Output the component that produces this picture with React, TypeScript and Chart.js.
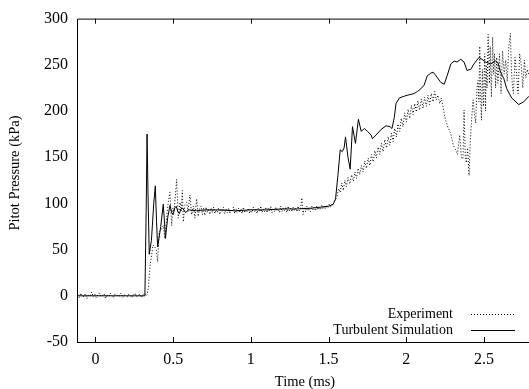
import React, { useEffect, useRef } from "react";
import { Chart, registerables } from "chart.js";

Chart.register(...registerables);

const xTicks = [0, 0.5, 1, 1.5, 2, 2.5];
const yTicks = [-50, 0, 50, 100, 150, 200, 250, 300];
const legendLabels = ["Experiment", "Turbulent Simulation"];
const xTitle = "Time (ms)";
const yTitle = "Pitot Pressure (kPa)";

// Experiment: [time (ms), pressure (kPa)]
const expBaseline: [number, number][] = [
  [-0.115, 1], [-0.105, -2], [-0.095, 3], [-0.085, 0], [-0.075, -1], [-0.065, 2], [-0.055, -3], [-0.045, 1],
  [-0.035, 0], [-0.025, 4], [-0.015, -1], [-0.005, 2], [0.005, -2], [0.015, 1], [0.025, 3], [0.035, -1],
  [0.045, 0], [0.055, 2], [0.065, -3], [0.075, 1], [0.085, -1], [0.095, 3], [0.105, 0], [0.115, -2],
  [0.125, 2], [0.135, 1], [0.145, -1], [0.155, 0], [0.165, 3], [0.175, -2], [0.185, 1], [0.195, 0],
  [0.205, -1], [0.215, 2], [0.225, 0], [0.235, -2], [0.245, 1], [0.255, 3], [0.265, -1], [0.275, 0],
  [0.285, 2], [0.295, -2], [0.305, 1], [0.315, 3], [0.325, 0], [0.333, 1],
];
const expOnset: [number, number][] = [
  [0.34, 9], [0.352, 34], [0.362, 45], [0.37, 55], [0.39, 51], [0.4, 37], [0.41, 69], [0.425, 72],
  [0.436, 76], [0.447, 62], [0.458, 85], [0.468, 101], [0.479, 112], [0.49, 76], [0.498, 95], [0.505, 91],
  [0.514, 108], [0.522, 126], [0.533, 84], [0.544, 101], [0.552, 92], [0.559, 114], [0.565, 80], [0.575, 98],
  [0.587, 101], [0.595, 91], [0.608, 109], [0.619, 88], [0.63, 97], [0.64, 84], [0.651, 105], [0.661, 86],
  [0.672, 95],
];
const expPlateau: [number, number][] = [
  [0.68, 97], [0.688, 88], [0.696, 95], [0.704, 87], [0.712, 96], [0.72, 90], [0.728, 94], [0.736, 88], [0.744, 95], [0.752, 90],
  [0.76, 96], [0.768, 89], [0.776, 93], [0.784, 90], [0.792, 95], [0.8, 88], [0.808, 94], [0.816, 91], [0.824, 96], [0.832, 89],
  [0.84, 94], [0.848, 90], [0.856, 95], [0.864, 89], [0.872, 93], [0.88, 91], [0.888, 96], [0.896, 89], [0.904, 94], [0.912, 90],
  [0.92, 95], [0.928, 90], [0.936, 94], [0.944, 89], [0.952, 96], [0.96, 90], [0.968, 93], [0.976, 91], [0.984, 95], [0.992, 89],
  [1.0, 94], [1.008, 90], [1.016, 96], [1.024, 91], [1.032, 94], [1.04, 89], [1.048, 95], [1.056, 91], [1.064, 97], [1.072, 90],
  [1.08, 94], [1.088, 91], [1.096, 96], [1.104, 90], [1.112, 95], [1.12, 92], [1.128, 97], [1.136, 90], [1.144, 95], [1.152, 91],
  [1.16, 96], [1.168, 92], [1.176, 94], [1.184, 90], [1.192, 97], [1.2, 91], [1.208, 95], [1.216, 92], [1.224, 96], [1.232, 90],
  [1.24, 97], [1.248, 92], [1.256, 95], [1.264, 91], [1.272, 96], [1.28, 92], [1.288, 95], [1.296, 91], [1.304, 97], [1.312, 92],
  [1.32, 95], [1.328, 106], [1.336, 88], [1.344, 96], [1.352, 91], [1.36, 97], [1.368, 92], [1.376, 95], [1.384, 91], [1.392, 97],
  [1.4, 93], [1.408, 96], [1.416, 92], [1.424, 97], [1.432, 93], [1.44, 96], [1.448, 93], [1.456, 98], [1.464, 94], [1.472, 97],
  [1.48, 94], [1.488, 98], [1.496, 95], [1.504, 99], [1.512, 96], [1.52, 99], [1.528, 98], [1.536, 102], [1.544, 104],
];
const expRise: [number, number][] = [
  [1.555, 108], [1.565, 116], [1.575, 112], [1.585, 122], [1.595, 114], [1.605, 125], [1.615, 118], [1.625, 128],
  [1.637, 121], [1.648, 131], [1.66, 124], [1.67, 134], [1.68, 127], [1.69, 138], [1.7, 131], [1.712, 141],
  [1.722, 134], [1.733, 146], [1.744, 138], [1.755, 149], [1.766, 141], [1.776, 153], [1.787, 145], [1.798, 157],
  [1.808, 149], [1.819, 161], [1.83, 153], [1.84, 165], [1.851, 156], [1.862, 169], [1.873, 160], [1.884, 172],
  [1.894, 163], [1.905, 176], [1.915, 167], [1.926, 181], [1.937, 172], [1.947, 186], [1.958, 178], [1.968, 192],
  [1.979, 183], [1.99, 198], [2.001, 188], [2.012, 202], [2.022, 192], [2.033, 206], [2.044, 196], [2.054, 208],
  [2.065, 199], [2.075, 211], [2.086, 201], [2.097, 213], [2.108, 203], [2.118, 215], [2.129, 205], [2.14, 217],
  [2.15, 207], [2.161, 219], [2.172, 210], [2.183, 221], [2.193, 212], [2.204, 217], [2.215, 208], [2.226, 214],
];
const expBreakdown: [number, number][] = [
  [2.236, 205], [2.245, 196], [2.254, 190], [2.262, 186], [2.269, 182], [2.279, 179], [2.29, 173], [2.3, 165],
  [2.31, 160], [2.318, 158], [2.33, 153], [2.344, 174], [2.355, 150], [2.365, 148], [2.372, 201], [2.38, 150],
  [2.387, 144], [2.395, 160], [2.404, 130], [2.412, 165], [2.419, 187], [2.43, 212], [2.44, 195], [2.447, 187],
  [2.455, 225], [2.462, 233], [2.468, 210], [2.473, 270], [2.478, 220], [2.484, 190], [2.49, 245], [2.497, 205],
  [2.505, 262], [2.51, 200], [2.515, 250], [2.52, 225], [2.527, 283], [2.535, 230], [2.54, 270], [2.548, 215],
  [2.556, 280], [2.562, 240], [2.568, 262], [2.575, 225], [2.582, 258], [2.59, 230], [2.6, 262], [2.61, 219],
  [2.62, 265], [2.63, 240], [2.64, 255], [2.65, 232], [2.66, 270], [2.67, 284], [2.677, 245], [2.684, 225],
  [2.69, 219], [2.7, 258], [2.71, 240], [2.72, 219], [2.73, 262], [2.74, 250], [2.75, 225], [2.76, 255],
  [2.77, 236], [2.78, 245], [2.79, 238],
];

// Turbulent simulation
const simTime = [
  -0.12, 0.318, 0.326, 0.332, 0.338, 0.346, 0.36, 0.375, 0.385, 0.393, 0.4, 0.42, 0.436, 0.444, 0.45, 0.465,
  0.48, 0.49, 0.5, 0.51, 0.52, 0.53, 0.54, 0.55, 0.56, 0.58, 0.6, 0.65, 0.7, 0.8, 0.9, 1.0,
  1.1, 1.2, 1.3, 1.4, 1.45, 1.5, 1.53, 1.545, 1.56, 1.575, 1.588, 1.6, 1.609, 1.625, 1.639, 1.654,
  1.673, 1.692, 1.71, 1.731, 1.75, 1.774, 1.782, 1.806, 1.838, 1.87, 1.896, 1.908, 1.923, 1.934, 1.955, 1.987,
  2.006, 2.03, 2.051, 2.071, 2.094, 2.115, 2.135, 2.158, 2.173, 2.192, 2.222, 2.244, 2.263, 2.287, 2.308, 2.327,
  2.351, 2.372, 2.391, 2.415, 2.436, 2.468, 2.487, 2.511, 2.543, 2.575, 2.59, 2.607, 2.628, 2.647, 2.679, 2.724,
  2.756, 2.79,
];
const simPressure = [
  0, 0, 90, 175, 110, 45, 60, 100, 119, 80, 53, 75, 99, 80, 62, 85,
  98, 90, 88, 95, 97, 91, 89, 94, 95, 90, 93, 92, 93, 93, 92, 93,
  93, 94, 94, 95, 96, 97, 99, 105, 130, 158, 156, 160, 172, 150, 137, 183,
  165, 191, 178, 181, 178, 174, 170, 174, 180, 184, 183, 181, 193, 208, 214, 216,
  217, 218, 219, 221, 224, 228, 238, 241, 242, 238, 231, 229, 238, 251, 254, 253,
  256, 253, 244, 245, 251, 258, 256, 253, 251, 254, 252, 242, 235, 224, 214, 207,
  210, 216,
];

const FONT = "'Liberation Serif', 'Times New Roman', serif";

export default function App() {
  const ref = useRef<HTMLCanvasElement | null>(null);

  useEffect(() => {
    document.body.style.margin = "0";
    const canvas = ref.current;
    if (!canvas) return;

    const expData = [...expBaseline, ...expOnset, ...expPlateau, ...expRise, ...expBreakdown].map(([x, y]) => ({ x, y }));
    const simData = simTime.map((x, i) => ({ x, y: simPressure[i] }));

    const framePlugin = {
      id: "frame",
      afterDraw(chart: any) {
        const { ctx, chartArea, scales } = chart;
        const { left, right, top, bottom } = chartArea;
        ctx.save();
        ctx.strokeStyle = "#000";
        ctx.lineWidth = 1;
        ctx.beginPath();
        ctx.moveTo(left + 0.5, bottom + 0.5);
        ctx.lineTo(left + 0.5, top + 0.5);
        ctx.lineTo(right, top + 0.5);
        ctx.moveTo(left, bottom + 0.5);
        ctx.lineTo(right, bottom + 0.5);
        for (const t of xTicks) {
          const px = Math.round(scales.x.getPixelForValue(t)) + 0.5;
          ctx.moveTo(px, bottom);
          ctx.lineTo(px, bottom - 5);
          ctx.moveTo(px, top);
          ctx.lineTo(px, top + 5);
        }
        ctx.stroke();

        ctx.fillStyle = "#000";
        ctx.font = `14.5px ${FONT}`;
        // axis titles
        ctx.textAlign = "center";
        ctx.textBaseline = "middle";
        ctx.fillText(xTitle, (left + right) / 2 + 2, 382);
        ctx.save();
        ctx.translate(15, 173);
        ctx.rotate(-Math.PI / 2);
        ctx.fillText(yTitle, 0, 0);
        ctx.restore();

        // legend
        ctx.font = `14px ${FONT}`;
        ctx.textAlign = "right";
        const rows = [314, 330];
        legendLabels.forEach((label, i) => {
          ctx.fillText(label, 453, rows[i]);
          ctx.beginPath();
          ctx.setLineDash(i === 0 ? [1, 2] : []);
          ctx.moveTo(471, rows[i] + 0.5);
          ctx.lineTo(515, rows[i] + 0.5);
          ctx.stroke();
        });
        ctx.restore();
      },
    };

    const chart = new Chart(canvas, {
      type: "line",
      data: {
        datasets: [
          {
            label: legendLabels[0],
            data: expData,
            borderColor: "#000",
            borderWidth: 1,
            borderDash: [1, 2],
            pointRadius: 0,
            tension: 0,
            fill: false,
          },
          {
            label: legendLabels[1],
            data: simData,
            borderColor: "#000",
            borderWidth: 1,
            pointRadius: 0,
            tension: 0,
            fill: false,
          },
        ],
      },
      options: {
        animation: false,
        responsive: false,
        maintainAspectRatio: false,
        layout: { padding: { top: 14, right: 0, left: 0, bottom: 0 } },
        plugins: { legend: { display: false }, tooltip: { enabled: false } },
        scales: {
          x: {
            type: "linear",
            position: "bottom",
            min: -0.119,
            max: 2.79,
            afterBuildTicks: (s: any) => {
              s.ticks = xTicks.map((v) => ({ value: v }));
            },
            afterFit: (s: any) => {
              s.height = 47;
            },
            grid: { display: false, drawTicks: false },
            border: { display: false },
            ticks: {
              color: "#000",
              padding: 8,
              maxRotation: 0,
              font: { family: FONT, size: 16 },
              callback: (v: any) => String(v),
            },
          },
          y: {
            type: "linear",
            min: -50,
            max: 300,
            afterBuildTicks: (s: any) => {
              s.ticks = yTicks.map((v) => ({ value: v }));
            },
            afterFit: (s: any) => {
              s.width = 77;
            },
            grid: { display: false, drawTicks: false },
            border: { display: false },
            ticks: {
              color: "#000",
              padding: 9,
              font: { family: FONT, size: 16 },
            },
          },
        },
      },
      plugins: [framePlugin],
    });

    return () => chart.destroy();
  }, []);

  return (
    <div style={{ width: 529, height: 389 }}>
      <canvas ref={ref} width={529} height={389} style={{ display: "block" }} />
    </div>
  );
}
